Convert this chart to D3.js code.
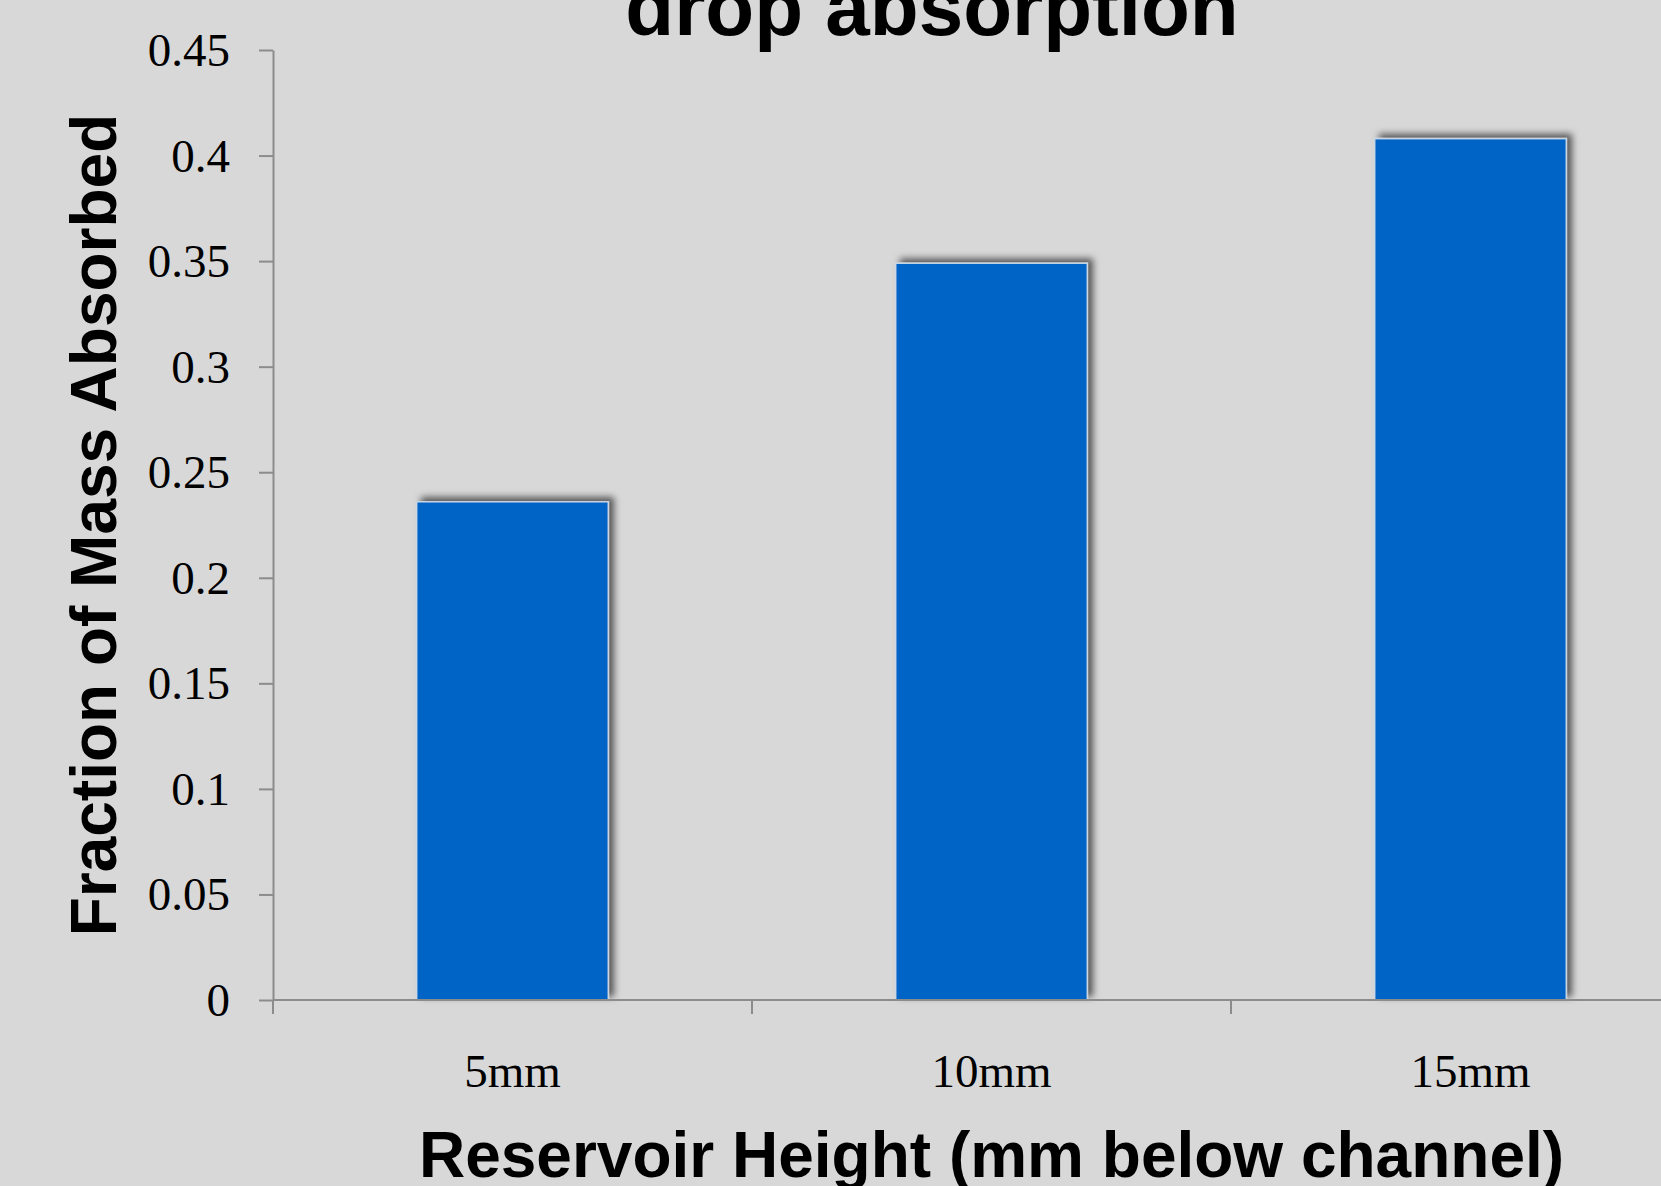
<!DOCTYPE html>
<html>
<head>
<meta charset="utf-8">
<script src="https://cdn.jsdelivr.net/npm/d3@7"></script>
<style>
  html, body { margin: 0; padding: 0; background: #d8d8d8; }
  svg { display: block; }
</style>
</head>
<body>
<script>
// Fraction of drop mass absorbed at each reservoir height
const categories = ["5mm", "10mm", "15mm"];
const fractionAbsorbed = [0.236, 0.349, 0.408];
const yTickValues = [0, 0.05, 0.1, 0.15, 0.2, 0.25, 0.3, 0.35, 0.4, 0.45];
const yTickLabels = ["0", "0.05", "0.1", "0.15", "0.2", "0.25", "0.3", "0.35", "0.4", "0.45"];
const titleText = "drop absorption";
const xTitleText = "Reservoir Height (mm below channel)";
const yTitleText = "Fraction of Mass Absorbed";

const W = 1661, H = 1186;
const plot = { left: 273, top: 50, bottom: 1000, step: 479 };

const svg = d3.select("body").append("svg")
  .attr("width", W).attr("height", H);

svg.append("rect").attr("width", W).attr("height", H).attr("fill", "#d8d8d8");

const defs = svg.append("defs");
defs.append("filter").attr("id", "barShadow")
  .attr("x", "-20%").attr("y", "-20%").attr("width", "140%").attr("height", "140%")
  .append("feDropShadow")
  .attr("dx", 5).attr("dy", -4).attr("stdDeviation", 3.5)
  .attr("flood-color", "#000").attr("flood-opacity", 0.6);

const x = d3.scaleBand()
  .domain(categories)
  .range([plot.left, plot.left + plot.step * categories.length])
  .paddingInner(0.6).paddingOuter(0.3);

const y = d3.scaleLinear().domain([0, 0.45]).range([plot.bottom, plot.top]);

const axisColor = "#8c8c8c";

// bars
svg.append("g").selectAll("rect")
  .data(categories.map((c, i) => ({ c, v: fractionAbsorbed[i] })))
  .join("rect")
  .attr("x", d => x(d.c))
  .attr("y", d => y(d.v))
  .attr("width", x.bandwidth())
  .attr("height", d => y(0) - y(d.v))
  .attr("fill", "#0063c6")
  .attr("stroke", "#c9d6e3")
  .attr("stroke-width", 1.5)
  .attr("filter", "url(#barShadow)");

// y axis
const yAxis = d3.axisLeft(y)
  .tickValues(yTickValues)
  .tickFormat((d, i) => yTickLabels[i])
  .tickSize(14).tickSizeOuter(0).tickPadding(29);

const gy = svg.append("g").attr("transform", `translate(${plot.left},0)`).call(yAxis);
gy.select(".domain").attr("stroke", axisColor).attr("stroke-width", 2);
gy.selectAll(".tick line").attr("stroke", axisColor).attr("stroke-width", 2);
gy.selectAll(".tick text")
  .attr("font-family", "'Liberation Serif', 'Times New Roman', serif")
  .attr("font-size", 47).attr("fill", "#000").attr("dy", "0.33em");

// x axis: baseline with ticks at category boundaries
const gx = svg.append("g");
const xEnd = x.range()[1];
gx.append("line")
  .attr("x1", plot.left).attr("x2", xEnd)
  .attr("y1", y(0)).attr("y2", y(0))
  .attr("stroke", axisColor).attr("stroke-width", 2);
gx.selectAll("line.tick")
  .data(d3.range(categories.length + 1))
  .join("line").attr("class", "tick")
  .attr("x1", i => plot.left + i * x.step()).attr("x2", i => plot.left + i * x.step())
  .attr("y1", y(0)).attr("y2", y(0) + 14)
  .attr("stroke", axisColor).attr("stroke-width", 2);
gx.selectAll("text")
  .data(categories)
  .join("text")
  .attr("x", d => x(d) + x.bandwidth() / 2)
  .attr("y", 1087)
  .attr("text-anchor", "middle")
  .attr("font-family", "'Liberation Serif', 'Times New Roman', serif")
  .attr("font-size", 47).attr("fill", "#000")
  .text(d => d);

// titles
const sans = "'Liberation Sans', Arial, Helvetica, sans-serif";
svg.append("text")
  .attr("x", 932).attr("y", 35)
  .attr("text-anchor", "middle")
  .attr("font-family", sans).attr("font-weight", "bold")
  .attr("font-size", 80).attr("fill", "#000")
  .text(titleText);

svg.append("text")
  .attr("x", (plot.left + xEnd) / 2).attr("y", 1177)
  .attr("text-anchor", "middle")
  .attr("font-family", sans).attr("font-weight", "bold")
  .attr("font-size", 64).attr("fill", "#000")
  .text(xTitleText);

svg.append("text")
  .attr("transform", `translate(116,525) rotate(-90)`)
  .attr("text-anchor", "middle")
  .attr("font-family", sans).attr("font-weight", "bold")
  .attr("font-size", 64).attr("fill", "#000")
  .text(yTitleText);
</script>
</body>
</html>
